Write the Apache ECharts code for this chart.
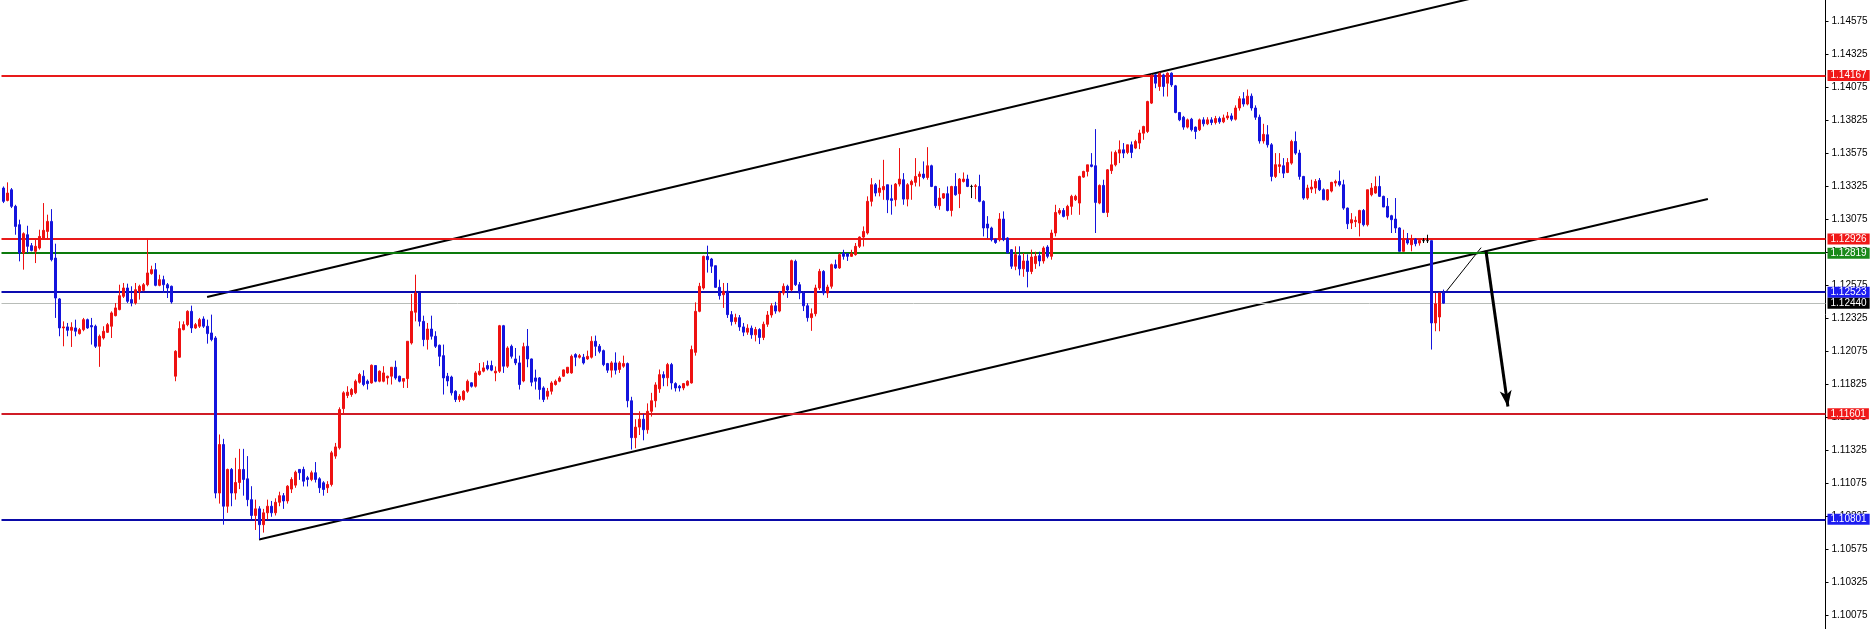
<!DOCTYPE html>
<html><head><meta charset="utf-8">
<script src="https://cdn.jsdelivr.net/npm/echarts@6/dist/echarts.min.js"></script>
<style>html,body{margin:0;padding:0;background:#fff;overflow:hidden}#c{width:1873px;height:629px}</style>
</head><body><div id="c"></div>
<script>
// ---- data ----
const open = [
1.13313,1.13219,1.13300,1.13174,1.13035,1.12820,1.12959,1.12876,1.12833,1.12858,
1.12934,1.12984,1.13060,1.12782,1.12472,1.12252,1.12260,1.12234,1.12252,1.12209,
1.12239,1.12315,1.12270,1.12265,1.12113,1.12176,1.12219,1.12265,1.12345,1.12391,
1.12492,1.12555,1.12467,1.12441,1.12530,1.12537,1.12580,1.12664,1.12694,1.12575,
1.12618,1.12580,1.12568,1.11886,1.12030,1.12239,1.12277,1.12378,1.12252,1.12265,
1.12320,1.12265,1.12214,1.12176,1.11000,1.11368,1.10900,1.11179,1.11000,1.11080,
1.11179,1.11108,1.10950,1.10830,1.10880,1.10760,1.10850,1.10900,1.10850,1.10930,
1.10980,1.10940,1.11030,1.11060,1.11179,1.11179,1.11116,1.11103,1.11154,1.11108,
1.11078,1.11040,1.11065,1.11280,1.11343,1.11640,1.11740,1.11747,1.11760,1.11840,
1.11886,1.11848,1.11835,1.11967,1.11848,1.11848,1.11873,1.11886,1.11954,1.11886,
1.11848,1.11868,1.12138,1.12371,1.12517,1.12302,1.12164,1.12244,1.12189,1.12121,
1.12042,1.11886,1.11880,1.11772,1.11709,1.11709,1.11772,1.11836,1.11810,1.11899,
1.11924,1.11967,1.11967,1.11911,1.11924,1.12269,1.11962,1.12113,1.12017,1.11987,
1.11850,1.12113,1.12017,1.11873,1.11873,1.11797,1.11734,1.11772,1.11823,1.11848,
1.11886,1.11911,1.11911,1.12050,1.12030,1.12030,1.12017,1.12030,1.12151,1.12113,
1.12080,1.11982,1.11932,1.11987,1.11937,1.11962,1.11982,1.11700,1.11420,1.11500,
1.11560,1.11480,1.11620,1.11700,1.11790,1.11898,1.11874,1.11974,1.11830,1.11810,
1.11797,1.11818,1.11835,1.12067,1.12378,1.12555,1.12795,1.12775,1.12724,1.12560,
1.12504,1.12530,1.12353,1.12300,1.12330,1.12260,1.12220,1.12250,1.12200,1.12240,
1.12180,1.12280,1.12350,1.12420,1.12380,1.12517,1.12568,1.12540,1.12757,1.12580,
1.12517,1.12420,1.12330,1.12360,1.12555,1.12681,1.12517,1.12568,1.12732,1.12707,
1.12820,1.12815,1.12795,1.12808,1.12871,1.12941,1.12972,1.13212,1.13338,1.13280,
1.13300,1.13338,1.13232,1.13224,1.13343,1.13376,1.13229,1.13338,1.13356,1.13401,
1.13419,1.13393,1.13482,1.13325,1.13179,1.13237,1.13270,1.13143,1.13325,1.13270,
1.13363,1.13381,1.13325,1.13325,1.13325,1.13212,1.13040,1.13010,1.12926,1.12921,
1.13078,1.12934,1.12845,1.12720,1.12800,1.12700,1.12760,1.12680,1.12740,1.12800,
1.12760,1.12866,1.12795,1.12972,1.13123,1.13143,1.13103,1.13174,1.13224,1.13199,
1.13396,1.13439,1.13489,1.13482,1.13199,1.13333,1.13128,1.13445,1.13489,1.13578,
1.13603,1.13583,1.13641,1.13616,1.13654,1.13729,1.13742,1.13957,1.14171,1.14083,
1.14171,1.14108,1.14184,1.14088,1.13886,1.13850,1.13775,1.13835,1.13775,1.13755,
1.13830,1.13800,1.13830,1.13810,1.13840,1.13815,1.13845,1.13860,1.13835,1.13920,
1.13990,1.13950,1.14010,1.13920,1.13850,1.13670,1.13717,1.13641,1.13401,1.13477,
1.13482,1.13431,1.13502,1.13666,1.13578,1.13401,1.13237,1.13305,1.13313,1.13371,
1.13300,1.13224,1.13290,1.13351,1.13363,1.13338,1.13161,1.13048,1.13058,1.13048,
1.13143,1.13035,1.13262,1.13275,1.13325,1.13250,1.13174,1.13103,1.13078,1.13010,
1.12833,1.12921,1.12883,1.12926,1.12896,1.12914,1.12914,1.12914,1.12290,1.12335,
1.12517];
const high = [
1.13325,1.13356,1.13313,1.13186,1.13073,1.12977,1.13027,1.12896,1.12921,1.12997,
1.13199,1.13111,1.13153,1.12891,1.12479,1.12302,1.12290,1.12295,1.12315,1.12252,
1.12328,1.12323,1.12328,1.12277,1.12202,1.12265,1.12290,1.12378,1.12441,1.12580,
1.12593,1.12588,1.12568,1.12593,1.12580,1.12593,1.12929,1.12724,1.12744,1.12656,
1.12648,1.12593,1.12573,1.12083,1.12302,1.12302,1.12386,1.12421,1.12290,1.12328,
1.12340,1.12315,1.12353,1.12190,1.11444,1.11411,1.11185,1.11190,1.11267,1.11335,
1.11335,1.11280,1.11052,1.10950,1.10900,1.10880,1.10950,1.10940,1.10960,1.11010,
1.11000,1.11060,1.11120,1.11170,1.11179,1.11200,1.11130,1.11170,1.11235,1.11120,
1.11090,1.11090,1.11320,1.11380,1.11650,1.11772,1.11810,1.11797,1.11861,1.11911,
1.11931,1.11861,1.11975,1.11967,1.11930,1.11962,1.11890,1.11954,1.12004,1.11890,
1.11870,1.12151,1.12510,1.12656,1.12517,1.12345,1.12290,1.12345,1.12227,1.12126,
1.12126,1.11911,1.11890,1.11780,1.11750,1.11780,1.11861,1.11840,1.11924,1.11986,
1.11992,1.12004,1.12004,1.11960,1.12275,1.12275,1.12113,1.12126,1.12100,1.12042,
1.12140,1.12244,1.12020,1.11936,1.11880,1.11810,1.11797,1.11848,1.11861,1.11886,
1.11937,1.11954,1.12050,1.12060,1.12055,1.12055,1.12080,1.12189,1.12194,1.12130,
1.12088,1.11987,1.12000,1.12067,1.12000,1.12042,1.11990,1.11730,1.11560,1.11620,
1.11600,1.11680,1.11760,1.11840,1.11937,1.11923,1.11987,1.11987,1.11840,1.11820,
1.11835,1.11855,1.12118,1.12446,1.12594,1.12800,1.12876,1.12783,1.12724,1.12618,
1.12593,1.12593,1.12380,1.12360,1.12350,1.12290,1.12280,1.12270,1.12260,1.12250,
1.12300,1.12380,1.12440,1.12450,1.12530,1.12590,1.12580,1.12770,1.12770,1.12600,
1.12530,1.12440,1.12400,1.12580,1.12700,1.12690,1.12580,1.12740,1.12770,1.12820,
1.12845,1.12820,1.12845,1.12896,1.12946,1.13022,1.13250,1.13388,1.13351,1.13376,
1.13527,1.13338,1.13338,1.13351,1.13616,1.13426,1.13350,1.13376,1.13540,1.13439,
1.13515,1.13623,1.13490,1.13330,1.13313,1.13275,1.13325,1.13330,1.13426,1.13389,
1.13431,1.13414,1.13338,1.13343,1.13414,1.13220,1.13100,1.13020,1.12930,1.13123,
1.13136,1.12940,1.12850,1.12871,1.12871,1.12820,1.12810,1.12846,1.12830,1.12830,
1.12871,1.12880,1.12997,1.13186,1.13161,1.13161,1.13186,1.13262,1.13262,1.13406,
1.13444,1.13489,1.13578,1.13760,1.13340,1.13376,1.13457,1.13590,1.13598,1.13674,
1.13654,1.13641,1.13666,1.13679,1.13755,1.13785,1.13975,1.14176,1.14180,1.14190,
1.14180,1.14190,1.14190,1.14095,1.13890,1.13860,1.13840,1.13845,1.13780,1.13840,
1.13850,1.13850,1.13850,1.13860,1.13855,1.13870,1.13890,1.13880,1.13940,1.14010,
1.14040,1.14060,1.14030,1.13940,1.13870,1.13800,1.13790,1.13654,1.13578,1.13578,
1.13540,1.13540,1.13679,1.13742,1.13603,1.13405,1.13338,1.13376,1.13381,1.13389,
1.13310,1.13305,1.13360,1.13376,1.13446,1.13376,1.13165,1.13123,1.13098,1.13148,
1.13154,1.13300,1.13351,1.13401,1.13406,1.13255,1.13237,1.13110,1.13237,1.13015,
1.12997,1.12972,1.12959,1.12934,1.12926,1.12934,1.12959,1.12914,1.12517,1.12517,
1.12543];
const low = [
1.13199,1.13212,1.13161,1.12959,1.12757,1.12694,1.12820,1.12833,1.12744,1.12846,
1.12921,1.12921,1.12757,1.12328,1.12189,1.12113,1.12189,1.12108,1.12189,1.12202,
1.12227,1.12245,1.12126,1.12100,1.11957,1.12164,1.12214,1.12176,1.12340,1.12386,
1.12479,1.12441,1.12416,1.12429,1.12467,1.12530,1.12568,1.12656,1.12568,1.12568,
1.12517,1.12479,1.12436,1.11848,1.12025,1.12234,1.12265,1.12214,1.12245,1.12252,
1.12252,1.12133,1.12151,1.10960,1.10920,1.10760,1.10850,1.10900,1.10950,1.11030,
1.10980,1.10900,1.10800,1.10720,1.10650,1.10700,1.10800,1.10820,1.10830,1.10900,
1.10880,1.10920,1.11000,1.11040,1.11100,1.11050,1.11050,1.11090,1.11080,1.11000,
1.10980,1.11000,1.11050,1.11260,1.11330,1.11600,1.11720,1.11730,1.11750,1.11830,
1.11810,1.11785,1.11830,1.11840,1.11840,1.11840,1.11823,1.11823,1.11860,1.11840,
1.11797,1.11797,1.12126,1.12302,1.12264,1.12113,1.12088,1.12164,1.12100,1.11962,
1.11747,1.11810,1.11740,1.11690,1.11690,1.11700,1.11760,1.11800,1.11800,1.11890,
1.11915,1.11930,1.11924,1.11848,1.11911,1.11911,1.11949,1.12020,1.11970,1.11785,
1.11840,1.11954,1.11810,1.11785,1.11709,1.11690,1.11709,1.11747,1.11815,1.11840,
1.11880,1.11905,1.11905,1.11962,1.12020,1.11975,1.12010,1.12020,1.12040,1.12060,
1.11962,1.11911,1.11876,1.11899,1.11911,1.11950,1.11650,1.11330,1.11340,1.11440,
1.11400,1.11450,1.11580,1.11650,1.11760,1.11810,1.11810,1.11785,1.11770,1.11770,
1.11780,1.11810,1.11830,1.12042,1.12371,1.12543,1.12672,1.12669,1.12555,1.12467,
1.12404,1.12328,1.12270,1.12280,1.12230,1.12190,1.12200,1.12170,1.12150,1.12130,
1.12160,1.12260,1.12330,1.12360,1.12370,1.12500,1.12480,1.12530,1.12570,1.12470,
1.12380,1.12300,1.12230,1.12340,1.12540,1.12500,1.12480,1.12550,1.12700,1.12700,
1.12770,1.12760,1.12790,1.12800,1.12858,1.12870,1.12960,1.13174,1.13250,1.13250,
1.13224,1.13123,1.13111,1.13174,1.13325,1.13186,1.13174,1.13224,1.13325,1.13325,
1.13380,1.13376,1.13320,1.13161,1.13148,1.13230,1.13136,1.13098,1.13255,1.13161,
1.13355,1.13320,1.13237,1.13229,1.13205,1.12946,1.12934,1.12908,1.12890,1.12908,
1.12910,1.12820,1.12700,1.12690,1.12650,1.12640,1.12560,1.12660,1.12700,1.12720,
1.12740,1.12780,1.12770,1.12946,1.13110,1.13090,1.13073,1.13110,1.13215,1.13110,
1.13390,1.13401,1.13470,1.12972,1.13190,1.13123,1.13093,1.13420,1.13477,1.13502,
1.13540,1.13570,1.13540,1.13608,1.13608,1.13679,1.13730,1.13950,1.14070,1.14050,
1.14007,1.14007,1.14080,1.13880,1.13820,1.13755,1.13765,1.13742,1.13684,1.13745,
1.13780,1.13790,1.13790,1.13795,1.13800,1.13805,1.13830,1.13820,1.13825,1.13900,
1.13930,1.13940,1.13900,1.13830,1.13650,1.13650,1.13620,1.13364,1.13389,1.13426,
1.13389,1.13426,1.13490,1.13565,1.13376,1.13224,1.13224,1.13275,1.13270,1.13290,
1.13224,1.13215,1.13280,1.13325,1.13325,1.13148,1.13002,1.13002,1.13017,1.12946,
1.13022,1.13022,1.13250,1.13270,1.13245,1.13169,1.13085,1.12972,1.12972,1.12833,
1.12833,1.12883,1.12833,1.12871,1.12876,1.12896,1.12896,1.12088,1.12227,1.12227,
1.12436];
const close = [
1.13212,1.13275,1.13174,1.13022,1.12820,1.12967,1.12871,1.12840,1.12871,1.12946,
1.12992,1.13060,1.12770,1.12479,1.12252,1.12260,1.12234,1.12257,1.12227,1.12239,
1.12315,1.12252,1.12260,1.12113,1.12189,1.12227,1.12277,1.12366,1.12404,1.12497,
1.12555,1.12454,1.12441,1.12542,1.12568,1.12580,1.12669,1.12694,1.12575,1.12618,
1.12580,1.12555,1.12449,1.12075,1.12247,1.12277,1.12378,1.12252,1.12277,1.12315,
1.12265,1.12209,1.12164,1.11000,1.11368,1.10900,1.11179,1.11000,1.11080,1.11179,
1.11103,1.10950,1.10830,1.10880,1.10760,1.10850,1.10900,1.10850,1.10930,1.10980,
1.10940,1.11052,1.11103,1.11158,1.11154,1.11090,1.11103,1.11154,1.11103,1.11040,
1.11027,1.11065,1.11305,1.11350,1.11633,1.11760,1.11765,1.11785,1.11848,1.11899,
1.11823,1.11830,1.11969,1.11848,1.11924,1.11911,1.11886,1.11954,1.11873,1.11848,
1.11868,1.12151,1.12378,1.12517,1.12302,1.12164,1.12244,1.12189,1.12113,1.12037,
1.11873,1.11850,1.11760,1.11709,1.11734,1.11772,1.11848,1.11810,1.11911,1.11924,
1.11949,1.11942,1.11932,1.11924,1.12269,1.11962,1.12100,1.12037,1.11987,1.11823,
1.12110,1.12017,1.11841,1.11848,1.11785,1.11709,1.11772,1.11835,1.11848,1.11873,
1.11934,1.11954,1.12037,1.12030,1.12042,1.11987,1.12037,1.12151,1.12113,1.12075,
1.11974,1.11932,1.11987,1.11932,1.11987,1.11982,1.11700,1.11420,1.11500,1.11560,
1.11480,1.11620,1.11700,1.11820,1.11898,1.11874,1.11974,1.11835,1.11797,1.11797,
1.11830,1.11848,1.12088,1.12378,1.12568,1.12795,1.12770,1.12720,1.12560,1.12497,
1.12530,1.12353,1.12300,1.12330,1.12260,1.12220,1.12250,1.12200,1.12240,1.12180,
1.12280,1.12350,1.12420,1.12380,1.12517,1.12568,1.12540,1.12762,1.12580,1.12517,
1.12420,1.12330,1.12360,1.12555,1.12681,1.12517,1.12562,1.12732,1.12707,1.12808,
1.12795,1.12795,1.12815,1.12871,1.12941,1.12984,1.13212,1.13338,1.13275,1.13313,
1.13325,1.13224,1.13219,1.13343,1.13381,1.13229,1.13338,1.13363,1.13401,1.13419,
1.13393,1.13482,1.13325,1.13179,1.13237,1.13270,1.13143,1.13325,1.13262,1.13381,
1.13381,1.13325,1.13325,1.13330,1.13212,1.13010,1.13010,1.12921,1.12900,1.13078,
1.12921,1.12820,1.12720,1.12808,1.12700,1.12760,1.12680,1.12790,1.12795,1.12760,
1.12858,1.12795,1.12972,1.13128,1.13143,1.13098,1.13174,1.13250,1.13250,1.13401,
1.13439,1.13489,1.13477,1.13204,1.13333,1.13128,1.13451,1.13489,1.13583,1.13603,
1.13578,1.13641,1.13583,1.13666,1.13730,1.13780,1.13969,1.14159,1.14108,1.14184,
1.14083,1.14184,1.14095,1.13886,1.13830,1.13775,1.13830,1.13755,1.13742,1.13830,
1.13800,1.13830,1.13810,1.13840,1.13815,1.13845,1.13860,1.13835,1.13920,1.13990,
1.13950,1.14010,1.13920,1.13850,1.13670,1.13720,1.13641,1.13401,1.13490,1.13490,
1.13426,1.13507,1.13666,1.13578,1.13401,1.13237,1.13313,1.13320,1.13363,1.13300,
1.13224,1.13300,1.13356,1.13363,1.13338,1.13161,1.13042,1.13073,1.13068,1.13143,
1.13035,1.13300,1.13313,1.13325,1.13250,1.13169,1.13093,1.13073,1.13010,1.12833,
1.12921,1.12896,1.12921,1.12891,1.12916,1.12914,1.12914,1.12290,1.12436,1.12517,
1.12440];

const yTicks = [1.14575,1.14325,1.14075,1.13825,1.13575,1.13325,1.13075,1.12825,1.12575,1.12325,
  1.12075,1.11825,1.11575,1.11325,1.11075,1.10825,1.10575,1.10325,1.10075];
const levelValues = [1.14167, 1.12926, 1.12819, 1.12523, 1.12440, 1.11601, 1.10801];
// trend lines in data coordinates: [bar index, price]
const upperTrend = [[50.9, 1.12487], [379.9, 1.14843]];
const lowerTrend = [[63.9, 1.10648], [426.1, 1.13230]];
const thinLine   = [[360.6, 1.12525], [369.4, 1.12861]];
const arrowLine  = [[370.6, 1.12839], [376.1, 1.11656]];

// ---- view / styles ----
const SLOTS = 456;
const Y_MIN = 1.09969, Y_MAX = 1.14739;
const FONT = '"Liberation Sans", Arial, sans-serif';
const UP = '#ee1111', DOWN = '#1414dd';
const levelStyle = [
  {line:'#e81a1a', box:'#f01818', w:2},
  {line:'#e81a1a', box:'#f01818', w:2},
  {line:'#0c7a0c', box:'#1a8a1a', w:2},
  {line:'#0c0cb0', box:'#1c1cf0', w:2},
  {line:'#b8bcb8', box:'#000000', w:1},
  {line:'#d01c26', box:'#f01818', w:2},
  {line:'#0a0aa8', box:'#1c1cf0', w:2}
];

const cats = [];
for (let i = 0; i < SLOTS; i++) cats.push(String(i));
const candles = open.map((o, i) => {
  const v = [o, close[i], low[i], high[i]];
  if (o === close[i]) return {value: v, itemStyle: {color:'#000', color0:'#000', borderColor:'#000', borderColor0:'#000'}};
  return v;
});

const chart = echarts.init(document.getElementById('c'), null, {renderer: 'canvas'});
chart.setOption({
  animation: false,
  backgroundColor: '#ffffff',
  grid: {left: 1.5, right: 47.5, top: 0, bottom: 0, containLabel: false},
  xAxis: [
    {type: 'category', data: cats, boundaryGap: true, show: false},
    {type: 'value', min: -0.5, max: SLOTS - 0.5, show: false}
  ],
  yAxis: {
    type: 'value', position: 'right', min: Y_MIN, max: Y_MAX, scale: true,
    axisLine: {show: true, onZero: false, lineStyle: {color: '#000', width: 1}},
    axisTick: {show: true, inside: false, length: 3, lineStyle: {color: '#000'}, customValues: yTicks},
    axisLabel: {show: true, inside: false, margin: 6, color: '#000', fontSize: 10, fontFamily: FONT,
      customValues: yTicks, formatter: v => v.toFixed(5)},
    splitLine: {show: false}
  },
  series: [
    {
      type: 'line', xAxisIndex: 1, yAxisIndex: 0, data: [[0, levelValues[0]]],
      symbol: 'none', showSymbol: false, lineStyle: {opacity: 0}, silent: true, z: 2,
      markLine: {
        silent: true, animation: false, precision: 5, symbol: ['none', 'none'], emphasis: {disabled: true},
        data: levelValues.map((v, k) => ({
          yAxis: v,
          lineStyle: {color: levelStyle[k].line, width: levelStyle[k].w, type: 'solid'},
          label: {show: true, position: 'end', formatter: v.toFixed(5), color: '#fff',
            backgroundColor: levelStyle[k].box, padding: [1, 3, 0, 3], fontSize: 10, lineHeight: 10,
            fontFamily: FONT, distance: 2}
        }))
      }
    },
    {type: 'line', xAxisIndex: 1, yAxisIndex: 0, data: upperTrend, symbol: 'none', silent: true, z: 3,
      lineStyle: {color: '#000', width: 2}},
    {type: 'line', xAxisIndex: 1, yAxisIndex: 0, data: lowerTrend, symbol: 'none', silent: true, z: 3,
      lineStyle: {color: '#000', width: 2}},
    {type: 'line', xAxisIndex: 1, yAxisIndex: 0, data: thinLine, symbol: 'none', silent: true, z: 3,
      lineStyle: {color: '#000', width: 1}},
    {
      type: 'line', xAxisIndex: 1, yAxisIndex: 0, data: [arrowLine[0]], symbol: 'none', showSymbol: false,
      lineStyle: {opacity: 0}, silent: true, z: 3,
      markLine: {
        silent: true, animation: false, precision: 5, symbol: ['none', 'arrow'], symbolSize: [9, 16],
        label: {show: false}, emphasis: {disabled: true},
        lineStyle: {color: '#000', width: 3, type: 'solid'},
        data: [[{coord: arrowLine[0]}, {coord: arrowLine[1]}]]
      }
    },
    {
      type: 'candlestick', xAxisIndex: 0, yAxisIndex: 0, data: candles, barWidth: 2, z: 5,
      silent: true, large: false,
      itemStyle: {color: UP, color0: DOWN, borderColor: UP, borderColor0: DOWN, borderWidth: 1, borderColorDoji: '#000'}
    }
  ]
});
</script>
</body></html>
